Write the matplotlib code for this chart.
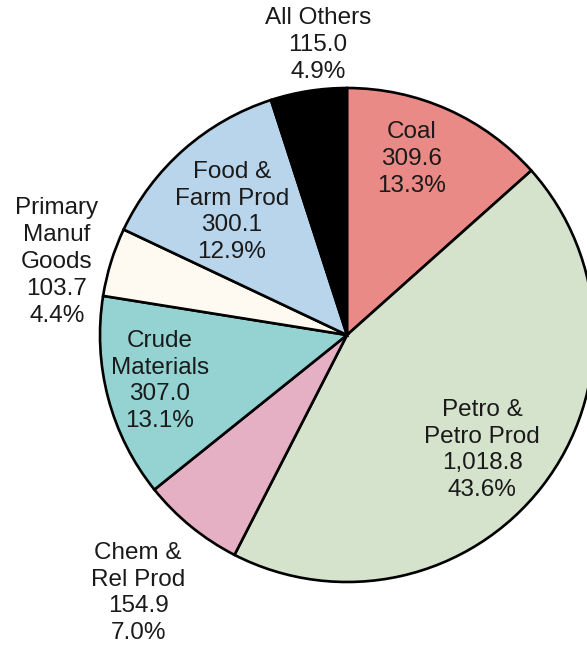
import matplotlib
matplotlib.use("Agg")
import matplotlib.pyplot as plt

categories = ["Coal", "Petro &\nPetro Prod", "Chem &\nRel Prod", "Crude\nMaterials",
              "Primary\nManuf\nGoods", "Food &\nFarm Prod", "All Others"]
values = [309.6, 1018.8, 154.9, 307.0, 103.7, 300.1, 115.0]
value_labels = ["309.6", "1,018.8", "154.9", "307.0", "103.7", "300.1", "115.0"]
pct_labels = ["13.3%", "43.6%", "7.0%", "13.1%", "4.4%", "12.9%", "4.9%"]
colors = ["#EA8A86", "#D5E3CC", "#E5B0C4", "#94D3D2", "#FEFAF1", "#B9D5EB", "#000000"]

# label centres in pixel coordinates (x, y from top)
label_pos = [(412, 159), (482, 450), (138, 593), (160, 381), (57, 262), (232, 212), (318, 45)]

W, H = 587, 650
fig = plt.figure(figsize=(W / 100, H / 100), dpi=100)
ax = fig.add_axes([0, 0, 1, 1])

cx, cy, r = 347, H - 335, 247
ax.pie(values, colors=colors, startangle=90, counterclock=False,
       center=(cx, cy), radius=r, frame=True,
       wedgeprops=dict(edgecolor="black", linewidth=1.9))
ax.set_xlim(0, W)
ax.set_ylim(0, H)
ax.set_aspect("equal")
ax.axis("off")

for cat, v, p, (px, py) in zip(categories, value_labels, pct_labels, label_pos):
    ax.text(px, H - py, f"{cat}\n{v}\n{p}", ha="center", va="center",
            fontsize=17.5, family="Liberation Sans", color="#1a1a1a",
            linespacing=1.28)

fig.savefig("out.png", dpi=100)
